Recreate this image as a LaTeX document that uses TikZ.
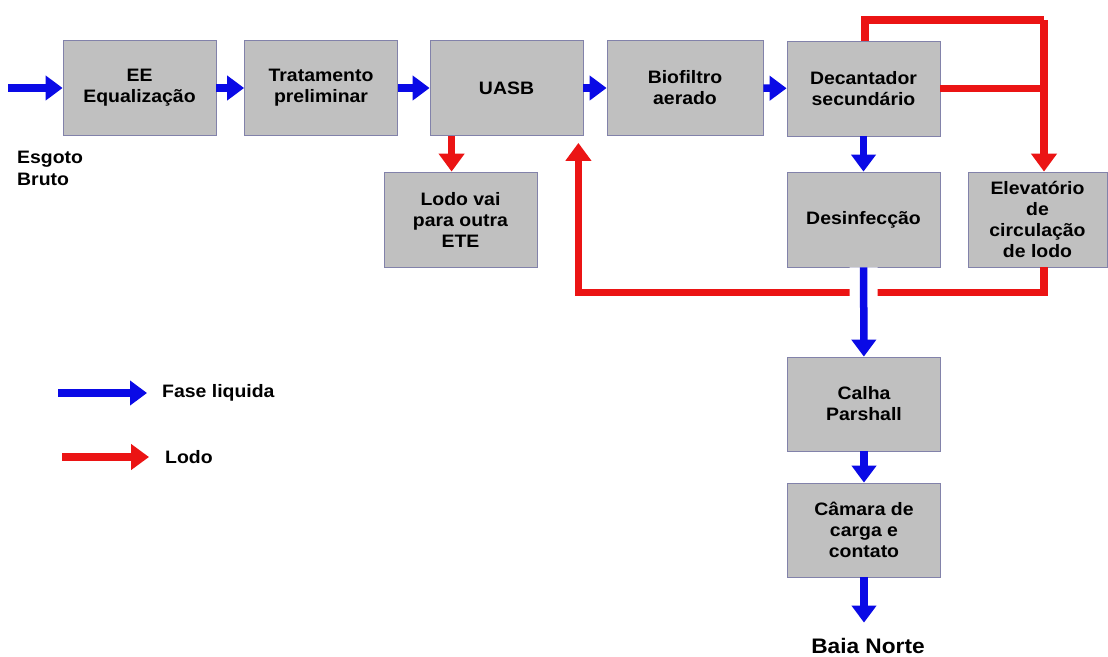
\documentclass[tikz,border=0pt]{standalone}
\usepackage{fontspec}
\setmainfont{Liberation Sans}[FakeStretch=1.08]
\usetikzlibrary{arrows.meta}
\definecolor{boxfill}{RGB}{192,192,192}
\definecolor{boxline}{RGB}{130,130,170}
\definecolor{flowblue}{RGB}{10,10,230}
\definecolor{flowred}{RGB}{235,20,20}
\begin{document}
\begin{tikzpicture}[x=1pt,y=-1pt,
  stage/.style={draw=boxline, line width=0.8pt, fill=boxfill, minimum width=153pt,
    minimum height=95pt, inner sep=0pt, align=center,
    font=\fontsize{18}{21}\selectfont\bfseries},
  lbl/.style={inner sep=0pt, align=left, font=\fontsize{18}{22}\selectfont\bfseries},
  bluearrow/.style={draw=flowblue, line width=7.5pt,
    -{Triangle[width=24pt,length=17pt]}, flowblue},
  redarrow/.style={draw=flowred, line width=7.5pt,
    -{Triangle[width=25pt,length=18pt]}, flowred},
  redline/.style={draw=flowred, line width=7.5pt, line join=miter},
  gapwhite/.style={preaction={draw=white, line width=28pt, -}}
]
\useasboundingbox[fill=white] (0,0) rectangle (1108,656);

% stages
\node[stage] (ee)    at (139.5,88)  {EE\\Equalização};
\node[stage] (trat)  at (321,88)    {Tratamento\\preliminar};
\node[stage] (uasb)  at (506.5,88)  {UASB};
\node[stage, minimum width=156pt] (bio) at (685,88) {Biofiltro\\aerado};
\node[stage] (dec)   at (863.5,88.5) {Decantador\\secundário};
\node[stage] (des)   at (863.5,219.5) {Desinfecção};
\node[stage, minimum width=139pt] (elev) at (1037.5,219.5) {Elevatório\\de\\circulação\\de lodo};
\node[stage] (lodo)  at (460.5,219.5) {Lodo vai\\para outra\\ETE};
\node[stage, minimum height=94pt] (calha)  at (864,404) {Calha\\Parshall};
\node[stage, minimum height=94pt] (camara) at (864,530) {Câmara de\\carga e\\contato};

% texts
\node[lbl, anchor=north west] (esg) at (17,151) {Esgoto\\Bruto};
\node[font=\fontsize{21}{24}\selectfont\bfseries, inner sep=2pt, anchor=base] (baia) at (868,653) {Baia Norte};

% legend
\node[lbl, anchor=west] (legb) at (162,393) {Fase liquida};
\node[lbl, anchor=west] (legr) at (165,457) {Lodo};
\coordinate (lbs) at (58,393);
\coordinate (lrs) at (62,457);
\draw[bluearrow, shorten >=15pt] (lbs) -- (legb.west);
\draw[redarrow, shorten >=16pt] (lrs) -- (legr.west);

% liquid phase
\coordinate (in) at (8,88);
\draw[bluearrow] (in) -- (ee.west);
\draw[bluearrow] (ee) -- (trat);
\draw[bluearrow] (trat) -- (uasb);
\draw[bluearrow] (uasb) -- (bio);
\draw[bluearrow] (bio) -- (dec);
\draw[bluearrow] (dec) -- (des);

% sludge
\coordinate (topR) at (1044,20);
\draw[redline] ([xshift=1.5pt]dec.north) |- (topR);
\draw[redline] (dec.east) -- (dec.east -| topR);
\draw[redarrow] (topR) -- (topR |- elev.north);
\draw[redarrow] ([xshift=22pt]uasb.south west) -- ([xshift=22pt]uasb.south west |- lodo.north);
\draw[redarrow, shorten >=7pt] ([xshift=6.5pt]elev.south) -- ++(0,25) -| ([xshift=-5pt]uasb.south east);

% liquid phase (crossing over the sludge return)
\draw[bluearrow, gapwhite] (des) -- (calha);
\draw[bluearrow] (calha) -- (camara);
\draw[bluearrow, shorten >=13pt] (camara) -- (camara |- baia.north);
\end{tikzpicture}
\end{document}
